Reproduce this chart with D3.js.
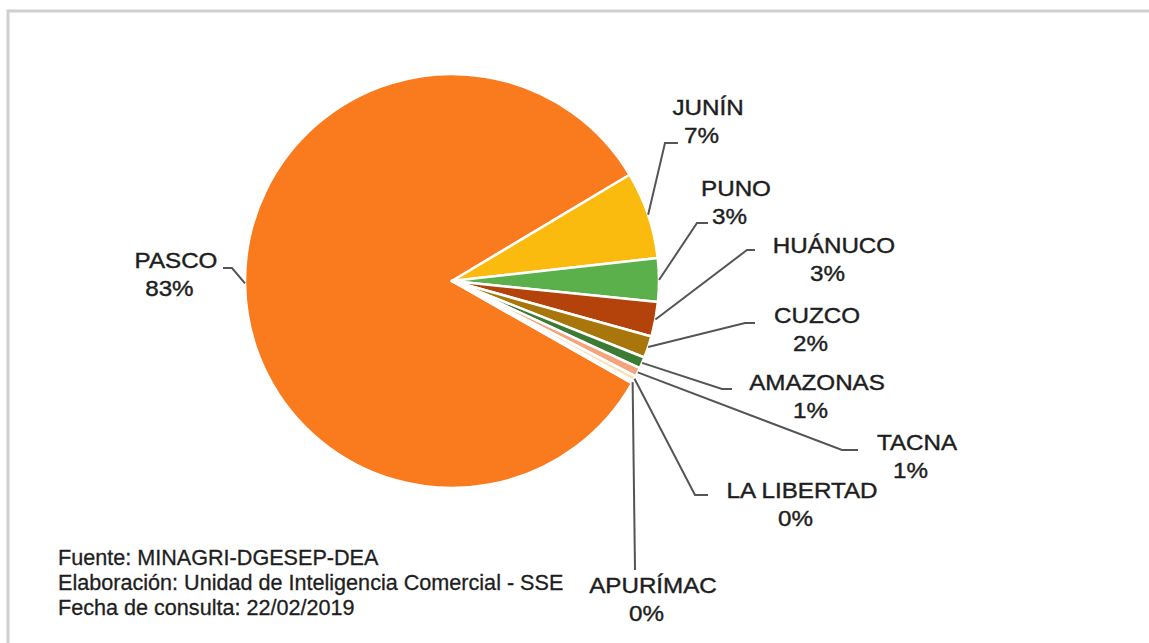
<!DOCTYPE html>
<html>
<head>
<meta charset="utf-8">
<script src="https://cdn.jsdelivr.net/npm/d3@7"></script>
<style>
  body { margin: 0; background: #fff; }
  text { font-family: "Liberation Sans", Arial, sans-serif; }
</style>
</head>
<body>
<div id="chart"></div>
<script>
// data (share of production, %)
var regions = ['PASCO', 'JUNÍN', 'PUNO', 'HUÁNUCO', 'CUZCO', 'AMAZONAS', 'TACNA', 'LA LIBERTAD', 'APURÍMAC'];
var shares = [83.2, 6.8, 3.4, 2.7, 1.7, 0.9, 0.7, 0.4, 0.2];
var colors = ['#fa7a1e', '#fbba0e', '#5bb04b', '#b4430b', '#a8760a', '#3b7b33', '#f4a47c', '#fbe0b4', '#e2efd6'];
var footer = ['Fuente: MINAGRI-DGESEP-DEA', 'Elaboración: Unidad de Inteligencia Comercial - SSE', 'Fecha de consulta: 22/02/2019'];

// label placement (hand laid out like the original): text centre, first baseline, elbow of leader, end of leader
var labelLayout = [
	{x: 176, y: 268, ex: 232, ey: 268, hx: 223},
	{x: 708, y: 115, ex: 665, ey: 143, hx: 678},
	{x: 736, y: 196, ex: 697, ey: 223, hx: 708},
	{x: 834, y: 253, ex: 747, ey: 250, hx: 755},
	{x: 817, y: 323, ex: 745, ey: 323, hx: 755},
	{x: 817, y: 390, ex: 722, ey: 389, hx: 732},
	{x: 917, y: 450, ex: 842, ey: 450, hx: 858},
	{x: 802, y: 498, ex: 695, ey: 495, hx: 708},
	{x: 653, y: 593, ex: 635, ey: 570, hx: 635}
];

var width = 1149, height = 643;
var cx = 452, cy = 281, radius = 207;
var ink = '#1e1e1e';

var svg = d3.select('#chart').append('svg')
	.attr('width', width)
	.attr('height', height);

// frame
svg.append('path')
	.attr('d', 'M8,643 V11 H1149')
	.attr('fill', 'none')
	.attr('stroke', '#d0d0d0')
	.attr('stroke-width', 3);

var table = regions.map(function(r, i) { return {name: r, value: shares[i], color: colors[i]}; });

var start = 119.6 * Math.PI / 180;
var pie = d3.pie()
	.sort(null)
	.value(d => d.value)
	.startAngle(start)
	.endAngle(start + 2 * Math.PI);

var arcs = pie(table);
var arc = d3.arc().innerRadius(0).outerRadius(radius);

var g = svg.append('g').attr('transform', 'translate(' + cx + ',' + cy + ')');

g.selectAll('path')
	.data(arcs)
	.enter()
	.append('path')
	.attr('d', arc)
	.attr('fill', d => d.data.color)
	.attr('stroke', '#fff')
	.attr('stroke-width', 2.5)
	.attr('stroke-linejoin', 'round');

// leader lines
svg.selectAll('polyline.leader')
	.data(arcs)
	.enter()
	.append('polyline')
	.attr('class', 'leader')
	.attr('points', function(d, i) {
		var a = (d.startAngle + d.endAngle) / 2;
		var sx = cx + Math.sin(a) * radius;
		var sy = cy - Math.cos(a) * radius;
		var L = labelLayout[i];
		return [[sx, sy], [L.ex, L.ey], [L.hx, L.ey]].join(' ');
	})
	.attr('fill', 'none')
	.attr('stroke', '#555')
	.attr('stroke-width', 2);

// labels (the original is a bit stretched sideways)
var lab = svg.selectAll('g.label')
	.data(arcs)
	.enter()
	.append('g')
	.attr('class', 'label')
	.attr('transform', (d, i) => 'translate(' + labelLayout[i].x + ',' + labelLayout[i].y + ') scale(1.1,1)');

lab.append('text')
	.attr('text-anchor', 'middle')
	.attr('font-size', '22px')
	.attr('fill', ink)
	.attr('stroke', ink)
	.attr('stroke-width', 0.4)
	.text(d => d.data.name);

lab.append('text')
	.attr('text-anchor', 'middle')
	.attr('x', -6)
	.attr('y', 28)
	.attr('font-size', '22px')
	.attr('fill', ink)
	.attr('stroke', ink)
	.attr('stroke-width', 0.4)
	.text(d => Math.round(d.data.value) + '%');

// source notes
svg.selectAll('text.note')
	.data(footer)
	.enter()
	.append('text')
	.attr('class', 'note')
	.attr('x', 58)
	.attr('y', (d, i) => 565 + i * 25)
	.attr('font-size', '21.6px')
	.attr('fill', ink)
	.attr('stroke', ink)
	.attr('stroke-width', 0.3)
	.text(d => d);
</script>
</body>
</html>
